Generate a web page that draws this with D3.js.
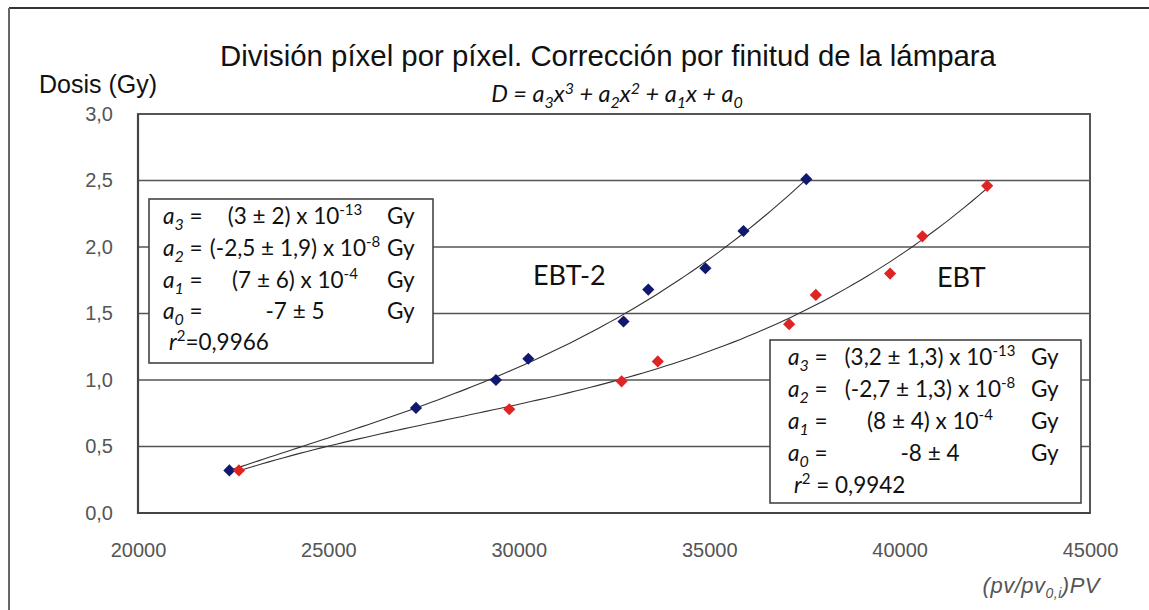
<html>
<head>
<script src="https://d3js.org/d3.v7.min.js"></script>
<style>
body { margin: 0; background: #fff; }
.tick text { font-family: "Liberation Sans", Arial, sans-serif; font-size: 20px; fill: #555; }
.box text { font-family: Lato, "Open Sans", sans-serif; font-size: 22.5px; fill: #111; }
</style>
</head>
<body>
<script>
// EBT-2 (blue) and EBT (red) measured points
var ebt2X = [22400, 27300, 29400, 30250, 32750, 33400, 34900, 35900, 37550];
var ebt2Y = [0.32, 0.79, 1.00, 1.16, 1.44, 1.68, 1.84, 2.12, 2.51];
var ebtX = [22650, 29750, 32700, 33650, 37100, 37800, 39750, 40600, 42300];
var ebtY = [0.32, 0.78, 0.99, 1.14, 1.42, 1.64, 1.80, 2.08, 2.46];
var xTicks = [20000, 25000, 30000, 35000, 40000, 45000];
var yTicks = [0, 0.5, 1, 1.5, 2, 2.5, 3];

var w = 1149, h = 610;
var margin = {top: 114, right: 59, bottom: 97, left: 138};

var svg = d3.select("body").append("svg").attr("width", w).attr("height", h);

var xScale = d3.scaleLinear().domain([20000, 45000]).range([margin.left, w - margin.right]);
var yScale = d3.scaleLinear().domain([0, 3]).range([h - margin.bottom, margin.top]);

// outer frame (top + left)
svg.append("line").attr("x1", 9).attr("y1", 8).attr("x2", w).attr("y2", 8)
  .attr("stroke", "#333").attr("stroke-width", 2);
svg.append("line").attr("x1", 9).attr("y1", 8).attr("x2", 9).attr("y2", h)
  .attr("stroke", "#666").attr("stroke-width", 2);

// gridlines
svg.append("g").selectAll("line").data(yTicks).enter().append("line")
  .attr("x1", margin.left).attr("x2", w - margin.right)
  .attr("y1", function(d){ return yScale(d); }).attr("y2", function(d){ return yScale(d); })
  .attr("stroke", "#555").attr("stroke-width", 1.6);

// plot frame
svg.append("rect").attr("x", margin.left).attr("y", margin.top)
  .attr("width", w - margin.left - margin.right).attr("height", h - margin.top - margin.bottom)
  .attr("fill", "none").attr("stroke", "#555").attr("stroke-width", 2);
svg.append("path")
  .attr("d", "M" + margin.left + "," + margin.top + "V" + (h - margin.bottom) + "H" + (w - margin.right))
  .attr("fill", "none").attr("stroke", "#444").attr("stroke-width", 2.2);

// axes
var fmt = function(d){ return d3.format(".1f")(d).replace(".", ","); };
var yAxis = svg.append("g").attr("transform", "translate(" + margin.left + ",0)")
  .call(d3.axisLeft(yScale).tickValues(yTicks).tickSize(0).tickPadding(25).tickFormat(fmt));
var xAxis = svg.append("g").attr("transform", "translate(0," + (h - margin.bottom) + ")")
  .call(d3.axisBottom(xScale).tickValues(xTicks).tickSize(0).tickPadding(30).tickFormat(d3.format("d")));
yAxis.select(".domain").remove();
xAxis.select(".domain").remove();

// cubic least squares trendline
function cubicFit(xs, ys) {
  var A = [], b = [], i, j, r;
  for (i = 0; i < 4; i++) { A.push([0, 0, 0, 0]); b.push(0); }
  xs.forEach(function(x, k){
    var t = x / 10000, p = [1, t, t * t, t * t * t];
    for (i = 0; i < 4; i++) {
      b[i] += p[i] * ys[k];
      for (j = 0; j < 4; j++) A[i][j] += p[i] * p[j];
    }
  });
  for (i = 0; i < 4; i++) {
    for (r = i + 1; r < 4; r++) {
      var f = A[r][i] / A[i][i];
      for (j = i; j < 4; j++) A[r][j] -= f * A[i][j];
      b[r] -= f * b[i];
    }
  }
  var c = [0, 0, 0, 0];
  for (i = 3; i >= 0; i--) {
    var s = b[i];
    for (j = i + 1; j < 4; j++) s -= A[i][j] * c[j];
    c[i] = s / A[i][i];
  }
  return function(x){ var t = x / 10000; return c[0] + c[1] * t + c[2] * t * t + c[3] * t * t * t; };
}

var line = d3.line().x(function(d){ return xScale(d[0]); }).y(function(d){ return yScale(d[1]); });
function trend(xs, ys) {
  var f = cubicFit(xs, ys);
  var lo = d3.min(xs), hi = d3.max(xs);
  var pts = d3.range(0, 101).map(function(k){ var x = lo + (hi - lo) * k / 100; return [x, f(x)]; });
  svg.append("path").attr("d", line(pts)).attr("fill", "none").attr("stroke", "#333").attr("stroke-width", 1.1);
}
trend(ebt2X, ebt2Y);
trend(ebtX, ebtY);

var diamond = d3.symbol().type(d3.symbolSquare).size(74);
function points(xs, ys, color) {
  svg.append("g").selectAll("path").data(xs).enter().append("path")
    .attr("d", diamond)
    .attr("transform", function(d, i){ return "translate(" + xScale(d) + "," + yScale(ys[i]) + ") rotate(45)"; })
    .attr("fill", color);
}
points(ebt2X, ebt2Y, "#101870");
points(ebtX, ebtY, "#e02424");

// titles
svg.append("text").attr("x", 608).attr("y", 66).attr("text-anchor", "middle")
  .style("font-family", "'Liberation Sans', Arial, sans-serif").style("font-size", "29.4px").style("fill", "#111")
  .text("División píxel por píxel. Corrección por finitud de la lámpara");
svg.append("text").attr("x", 39).attr("y", 93)
  .style("font-family", "'Liberation Sans', Arial, sans-serif").style("font-size", "25px").style("fill", "#111")
  .text("Dosis (Gy)");

var formula = svg.append("text").attr("x", 617).attr("y", 102).attr("text-anchor", "middle")
  .style("font-family", "Lato, sans-serif").style("font-style", "italic").style("font-size", "23.5px").style("fill", "#111");
var shift = 0;
[["D = a", 0], ["3", 6], ["x", 0], ["3", -8], [" + a", 0], ["2", 6], ["x", 0], ["2", -8],
 [" + a", 0], ["1", 6], ["x + a", 0], ["0", 6]].forEach(function(p){
  var t = formula.append("tspan").attr("dy", p[1] - shift).text(p[0]);
  if (p[1] !== 0) t.style("font-size", "16px");
  shift = p[1];
});

svg.append("text").attr("x", 1100).attr("y", 593).attr("text-anchor", "end")
  .style("font-family", "'Liberation Sans', Arial, sans-serif").style("font-style", "italic")
  .style("font-size", "22px").style("fill", "#555").style("letter-spacing", "0.5px")
  .html("(pv/pv<tspan dy='5' font-size='14px'>0,i</tspan><tspan dy='-5'>)PV</tspan>");

// series labels
svg.append("text").attr("x", 533).attr("y", 285)
  .style("font-family", "Lato, sans-serif").style("font-size", "27px").style("fill", "#111").text("EBT-2");
svg.append("text").attr("x", 937).attr("y", 287)
  .style("font-family", "Lato, sans-serif").style("font-size", "27px").style("fill", "#111").text("EBT");

// coefficient boxes
function coefBox(x0, y0, bw, bh, xa, xm, xg, ys, rows, r2) {
  var g = svg.append("g").attr("class", "box");
  g.append("rect").attr("x", x0).attr("y", y0).attr("width", bw).attr("height", bh)
    .attr("fill", "#fff").attr("stroke", "#444").attr("stroke-width", 1.6);
  rows.forEach(function(r, i){
    var a = g.append("text").attr("x", xa).attr("y", ys[i]);
    a.append("tspan").style("font-style", "italic").text("a");
    a.append("tspan").attr("dy", 6).style("font-style", "italic").style("font-size", "16px").text(r[0]);
    a.append("tspan").attr("dy", -6).text(" =");
    var m = g.append("text").attr("x", xm).attr("y", ys[i]).attr("text-anchor", "middle");
    m.append("tspan").text(r[1]);
    if (r[2]) m.append("tspan").attr("dy", -9).style("font-size", "15px").text(r[2]);
    g.append("text").attr("x", xg).attr("y", ys[i]).text("Gy");
  });
  var t = g.append("text").attr("x", xa + 6).attr("y", ys[4]);
  t.append("tspan").style("font-style", "italic").text("r");
  t.append("tspan").attr("dy", -9).style("font-size", "15px").text("2");
  t.append("tspan").attr("dy", 9).text(r2);
}
coefBox(149, 199, 284, 164, 163, 295, 387, [224, 256, 288, 319, 350],
  [["3", "(3 ± 2) x 10", "-13"], ["2", "(-2,5 ± 1,9) x 10", "-8"], ["1", "(7 ± 6) x 10", "-4"], ["0", "-7 ± 5", ""]],
  "=0,9966");
coefBox(770, 340, 311, 163, 788, 930, 1031, [365, 397, 429, 461, 493],
  [["3", "(3,2 ± 1,3) x 10", "-13"], ["2", "(-2,7 ± 1,3) x 10", "-8"], ["1", "(8 ± 4) x 10", "-4"], ["0", "-8 ± 4", ""]],
  " = 0,9942");
</script>
</body>
</html>
